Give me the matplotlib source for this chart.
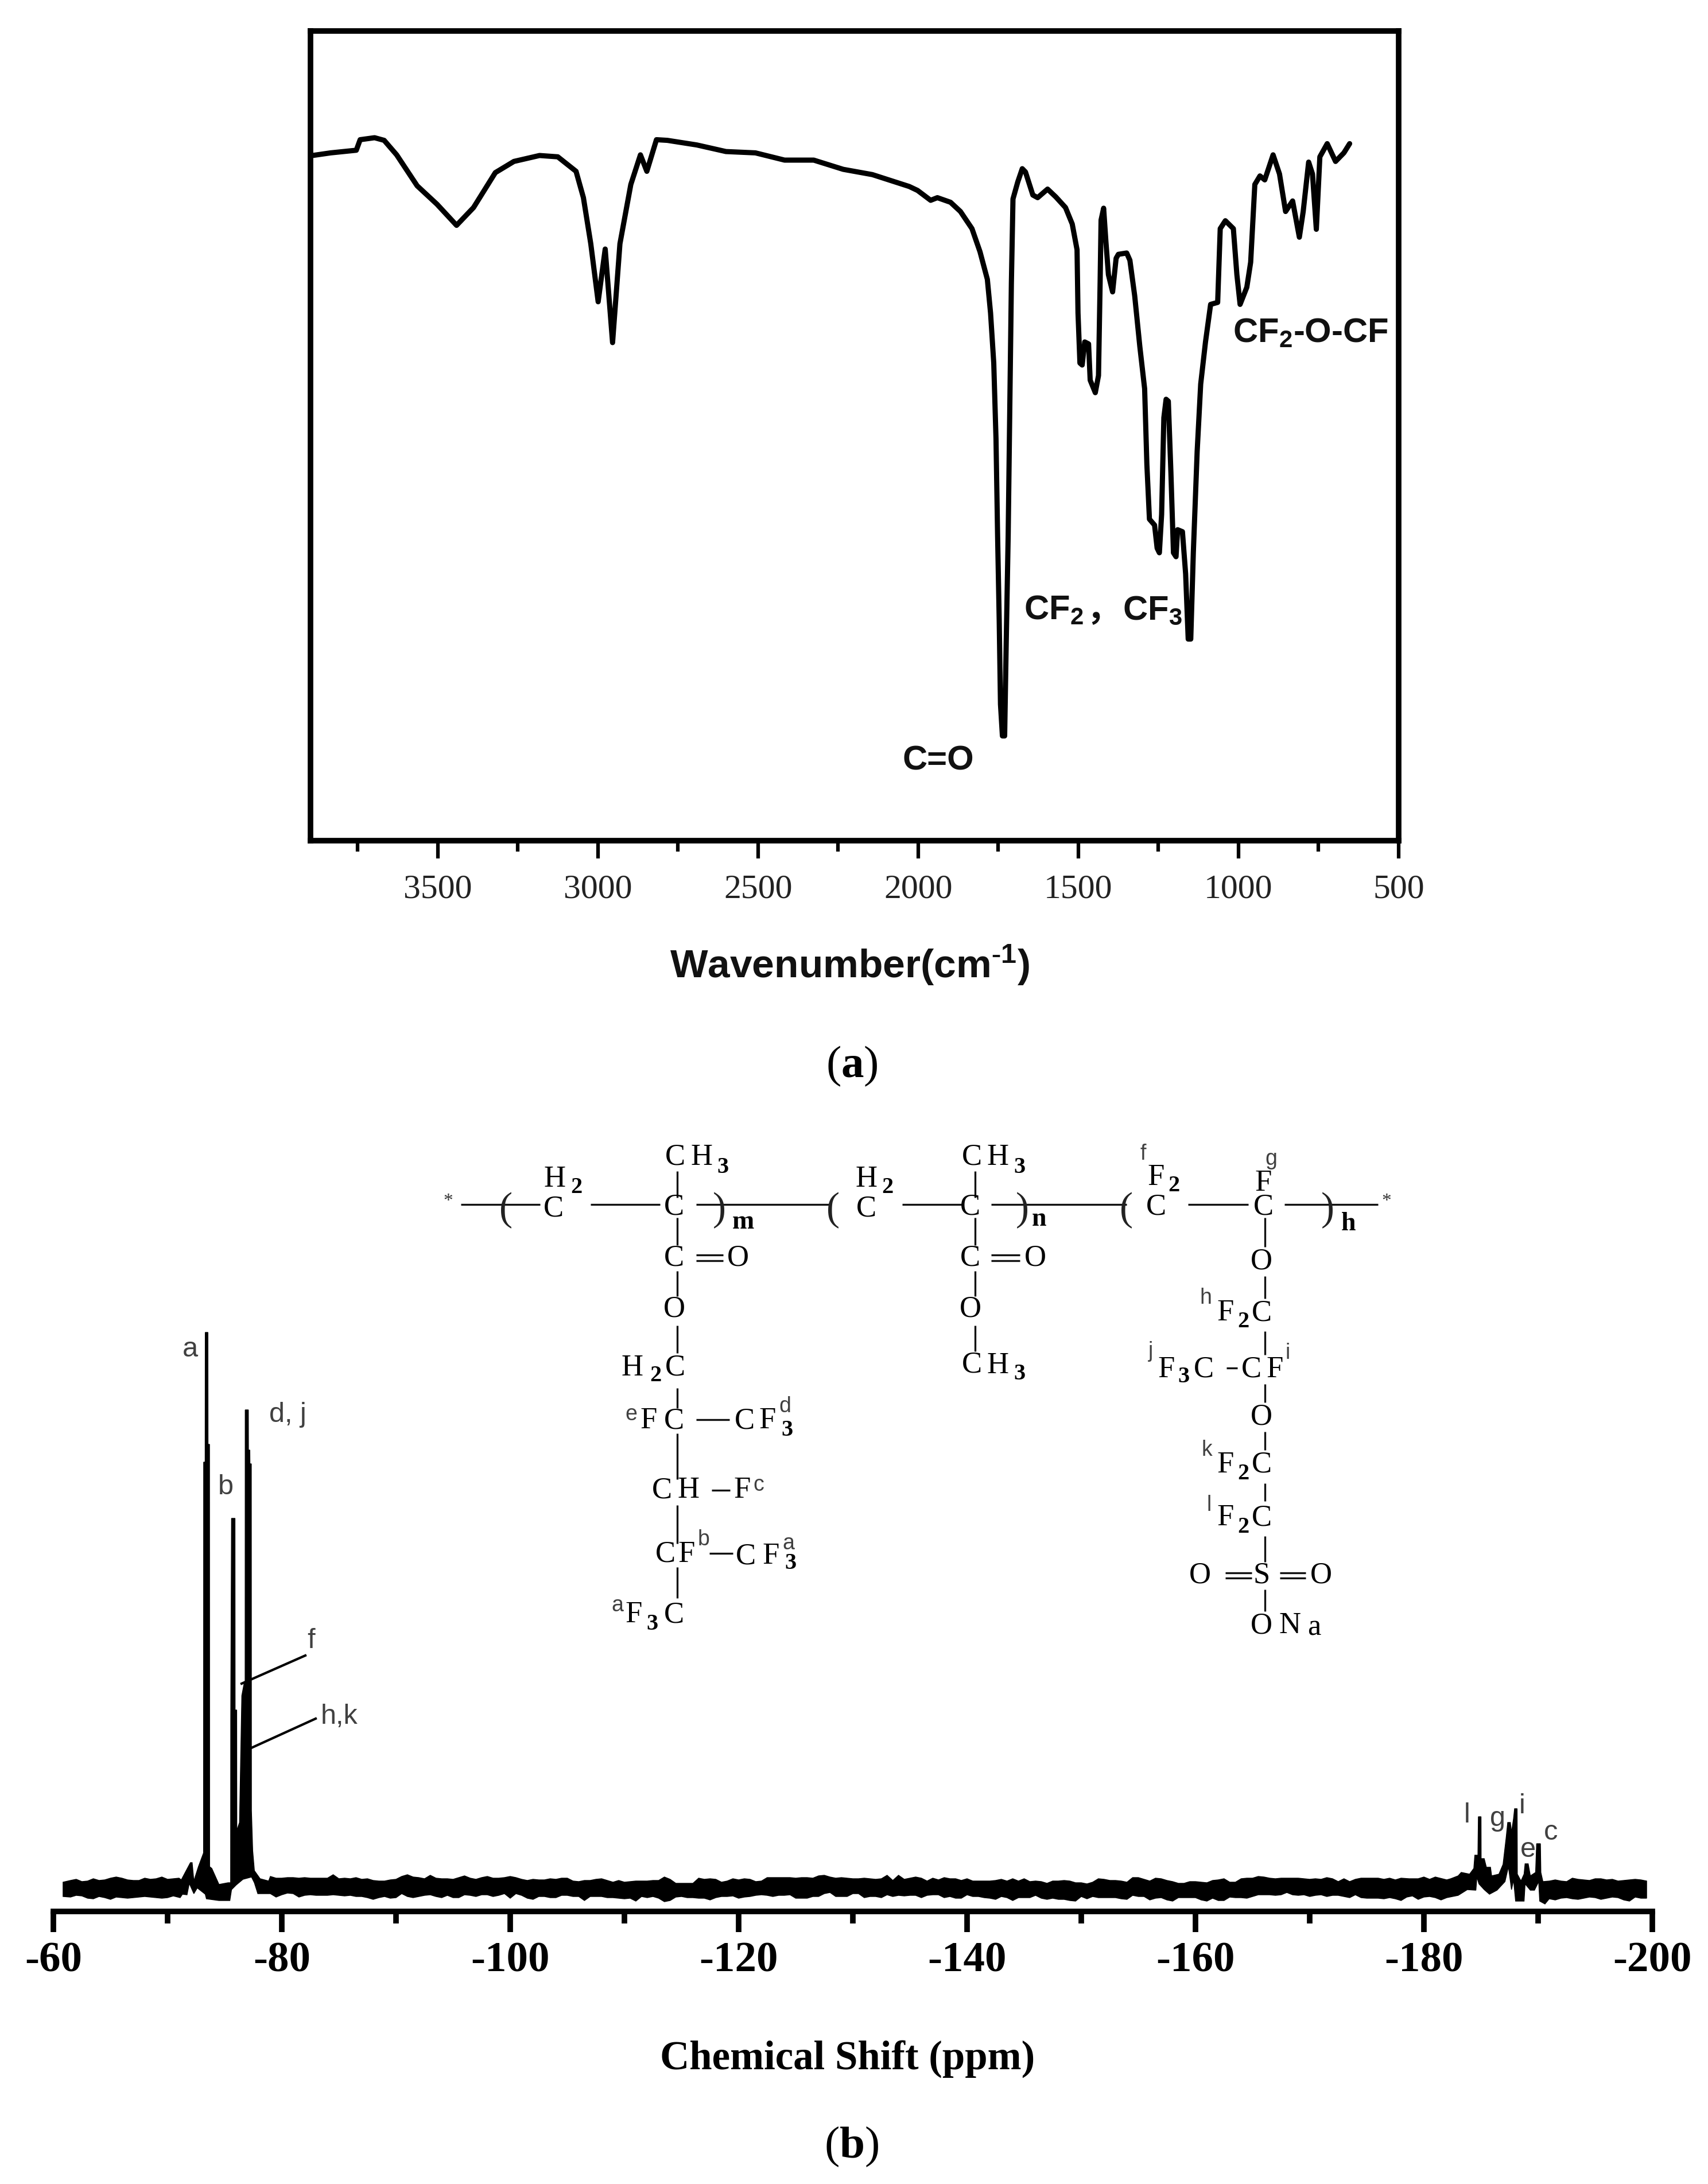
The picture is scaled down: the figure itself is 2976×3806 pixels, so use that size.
"""FTIR spectrum (a) and 19F NMR spectrum with repeat-unit structure (b)."""
import matplotlib

matplotlib.use("Agg")
import matplotlib.pyplot as plt

W, H = 2976, 3806
SANS = "Liberation Sans"
SERIF = "Liberation Serif"

plt.rcParams["mathtext.fontset"] = "custom"
plt.rcParams["mathtext.rm"] = SERIF
plt.rcParams["mathtext.bf"] = SERIF + ":bold"
plt.rcParams["mathtext.it"] = SERIF + ":italic"
plt.rcParams["mathtext.default"] = "regular"
plt.rcParams["axes.unicode_minus"] = False

# --- FTIR trace
wavenumber = [3891, 3834, 3754, 3742, 3697, 3667, 3628, 3564, 3502, 3441, 3388, 3320, 3262, 3182,
              3125, 3068, 3045, 3022, 2999, 2977, 2954, 2931, 2897, 2867, 2847, 2817, 2783, 2691,
              2600, 2508, 2417, 2326, 2234, 2143, 2028, 2002, 1961, 1940, 1899, 1868, 1832, 1807,
              1784, 1774, 1764, 1757, 1752, 1747, 1743, 1737, 1730, 1725, 1719, 1714, 1709, 1704,
              1689, 1675, 1665, 1642, 1627, 1596, 1570, 1540, 1519, 1504, 1501, 1495, 1488, 1480,
              1468, 1463, 1447, 1437, 1432, 1429, 1421, 1414, 1406, 1393, 1382, 1375, 1349, 1339,
              1324, 1308, 1293, 1286, 1278, 1262, 1254, 1247, 1240, 1233, 1226, 1219, 1211, 1203,
              1195, 1190, 1175, 1165, 1157, 1149, 1141, 1129, 1118, 1103, 1087, 1065, 1057, 1041,
              1016, 1005, 995, 974, 962, 949, 933, 918, 892, 872, 853, 831, 810, 798, 781, 769,
              757, 746, 723, 697, 671, 653]
ir_signal = [1040, 1044, 1048, 1064, 1067, 1063, 1041, 994, 966, 934, 961, 1014, 1031, 1040,
             1038, 1016, 976, 906, 818, 898, 756, 906, 996, 1041, 1016, 1064, 1063, 1056,
             1046, 1044, 1033, 1033, 1019, 1011, 993, 987, 972, 976, 969, 955, 929, 894,
             852, 801, 725, 610, 463, 335, 207, 159, 159, 303, 463, 654, 846, 974,
             1000, 1020, 1015, 980, 976, 989, 977, 961, 936, 897, 801, 725, 722, 757,
             754, 699, 680, 706, 846, 942, 960, 910, 859, 833, 884, 890, 892, 881,
             827, 750, 686, 571, 488, 479, 444, 437, 495, 642, 670, 667, 559, 437,
             431, 472, 469, 405, 306, 306, 437, 591, 693, 757, 814, 817, 929, 941,
             929, 859, 814, 840, 878, 996, 1009, 1003, 1041, 1012, 955, 971, 916, 955, 1030, 1012,
             928, 1038, 1058, 1031, 1044, 1058]
ir_major_ticks = [3500, 3000, 2500, 2000, 1500, 1000, 500]
ir_minor_ticks = [3750, 3250, 2750, 2250, 1750, 1250, 750]

# --- NMR outline: upper and lower edge of the noisy trace
nmr_upper_ppm = [-60.85, -62, -63, -64, -65, -66, -67, -68, -69, -70, -71, -71.2, -72, -72.15, -72.3, -72.7,
                 -73.15, -73.16, -73.29, -73.3, -73.53, -73.54, -73.67, -73.68, -73.87, -74.5, -75.3, -75.52,
                 -75.53, -75.6, -75.61, -75.9, -75.91, -76.05, -76.06, -76.3, -76.5, -76.7, -76.79, -76.8,
                 -77.07, -77.08, -77.2, -77.21, -77.33, -77.34, -77.45, -77.6, -78.1, -78.85, -79, -80, -81,
                 -82, -83, -84, -85, -86, -87, -88, -89, -90, -91, -92, -93, -94, -95, -96, -97, -98, -99,
                 -100, -101, -102, -103, -104, -105, -106, -107, -108, -109, -110, -111, -112, -113, -114,
                 -115, -116, -117, -118, -119, -120, -121, -122, -123, -124, -125, -126, -127, -128, -129,
                 -130, -131, -132, -133, -134, -135, -136, -137, -138, -139, -140, -141, -142, -143, -144,
                 -145, -146, -147, -148, -149, -150, -151, -152, -153, -154, -155, -156, -157, -158, -159,
                 -160, -161, -162, -163, -164, -165, -166, -167, -168, -169, -170, -171, -172, -173, -174,
                 -175, -176, -178.7, -181.4, -182.35, -183.27, -184, -184.37, -184.46, -184.73, -184.77,
                 -185, -185.01, -185.28, -185.47, -185.83, -185.93, -186.57, -186.93, -187.2, -187.34,
                 -187.57, -187.67, -187.85, -187.94, -188.16, -188.18, -188.5, -188.77, -188.86, -189.13,
                 -189.32, -189.78, -189.87, -190.2, -190.24, -190.42, -192, -193, -194, -195, -196, -197,
                 -198, -199, -199.5]
nmr_upper = [51, 56, 53, 54, 58, 58, 54, 58, 57, 56, 58, 55, 85, 85, 53, 78,
             102, 783, 783, 1009, 1009, 814, 814, 78, 75, 47, 50, 50,
             334, 685, 685, 685, 351, 351, 141, 155, 376, 397, 397, 874,
             874, 804, 804, 780, 780, 176, 106, 71, 57, 53, 61, 58, 59,
             59, 58, 58, 57, 57, 56, 54, 53, 56, 64, 59, 63, 57, 56, 62, 56, 61, 58,
             61, 56, 56, 55, 56, 58, 52, 54, 57, 51, 51, 53, 53, 54, 56,
             49, 49, 56, 56, 53, 55, 56, 53, 59, 59, 58, 59, 62, 60, 59,
             57, 58, 56, 63, 63, 58, 58, 58, 59, 57, 57, 53, 53, 56, 57,
             57, 53, 49, 53, 53, 50, 51, 56, 54, 51, 59, 53, 57, 52, 49,
             52, 50, 55, 51, 57, 58, 60, 57, 58, 58, 56, 56, 57, 57, 56,
             58, 58, 57, 58, 57, 68, 65, 75, 98, 98, 165,
             165, 92, 92, 77, 77, 62, 65, 82, 128, 155,
             155, 138, 162, 179, 179, 65, 53, 65, 83, 83,
             62, 68, 118, 118, 68, 52, 53, 58, 55, 57, 55, 53, 55, 55, 53]
nmr_lower_ppm = [-60.85, -62, -63, -64, -65, -66, -67, -68, -69, -70, -71.1, -71.3, -71.7, -71.9, -72.3, -72.6,
                 -73.3, -73.4, -74.5, -75.45, -75.6, -76, -76.6, -77.35, -77.6, -77.9, -79, -80, -81, -82,
                 -83, -84, -85, -86, -87, -88, -89, -90, -91, -92, -93, -94, -95, -96, -97, -98, -99, -100,
                 -101, -102, -103, -104, -105, -106, -107, -108, -109, -110, -111, -112, -113, -114, -115,
                 -116, -117, -118, -119, -120, -121, -122, -123, -124, -125, -126, -127, -128, -129, -130,
                 -131, -132, -133, -134, -135, -136, -137, -138, -139, -140, -141, -142, -143, -144, -145,
                 -146, -147, -148, -149, -150, -151, -152, -153, -154, -155, -156, -157, -158, -159, -160,
                 -161, -162, -163, -164, -165, -166, -167, -168, -169, -170, -171, -172, -173, -174, -175,
                 -176, -177, -178, -179, -180, -181, -182, -183, -183.8, -184.55, -184.64, -184.82, -185.28,
                 -185.74, -186.4, -187.1, -187.4, -187.67, -187.85, -188.03, -188.77, -188.86, -189.32,
                 -189.68, -190.05, -190.14, -190.6, -190.97, -192, -193, -194, -195, -196, -197, -198, -199,
                 -199.5]
nmr_lower = [26, 28, 23, 26, 21, 24, 24, 26, 24, 24, 24, 30, 29, 49, 31, 41,
             30, 22, 19, 19, 38, 46, 56, 60, 50, 31, 31, 29, 31, 28,
             28, 28, 28, 28, 26, 21, 26, 24, 26, 26, 29, 24, 24, 29, 26, 29, 28, 23,
             28, 21, 26, 24, 28, 26, 26, 26, 24, 22, 18, 24, 23, 19, 26,
             24, 23, 24, 26, 23, 26, 29, 26, 28, 23, 23, 26, 33, 26, 31,
             24, 26, 29, 28, 28, 24, 29, 24, 23, 29, 26, 23, 26, 19, 24,
             28, 21, 21, 19, 26, 26, 24, 24, 21, 26, 20, 24, 18, 24, 24,
             18, 19, 25, 24, 26, 29, 28, 33, 28, 26, 29, 28, 26, 29, 23,
             23, 24, 19, 27, 25, 24, 24, 28, 38, 37, 60, 48, 38,
             30, 37, 52, 78, 38, 55, 18, 18, 48, 37,
             37, 52, 18, 13, 22, 23, 22, 23, 24, 23, 24, 18, 23, 23]
# readings taken between the whole-ppm ones, along the flat stretches
mid_upper_ppm = [-61.5, -62.5, -63.5, -64.5, -65.5, -66.5, -67.5, -68.5, -69.5, -70.5,
                 -79.5, -80.5, -81.5, -82.5, -83.5, -84.5, -85.5, -86.5, -87.5, -88.5, -89.5, -90.5,
                 -91.5, -92.5, -93.5, -94.5, -95.5, -96.5, -97.5, -98.5, -99.5,
                 -100.5, -101.5, -102.5, -103.5, -104.5, -105.5, -106.5, -107.5, -108.5, -109.5,
                 -110.5, -111.5, -112.5, -113.5, -114.5, -115.5, -116.5, -117.5, -118.5, -119.5,
                 -120.5, -121.5, -122.5, -123.5, -124.5, -125.5, -126.5, -127.5, -128.5, -129.5,
                 -130.5, -131.5, -132.5, -133.5, -134.5, -135.5, -136.5, -137.5, -138.5, -139.5,
                 -140.5, -141.5, -142.5, -143.5, -144.5, -145.5, -146.5, -147.5, -148.5, -149.5,
                 -150.5, -151.5, -152.5, -153.5, -154.5, -155.5, -156.5, -157.5, -158.5, -159.5,
                 -160.5, -161.5, -162.5, -163.5, -164.5, -165.5, -166.5, -167.5, -168.5, -169.5,
                 -170.5, -171.5, -172.5, -173.5, -174.5,
                 -176.5, -177, -177.5, -178, -179.5, -180, -180.5, -181, -182, -183,
                 -191, -191.5, -192.5, -193.5, -194.5, -195.5, -196.5, -197.5, -198.5]
mid_upper = [54, 52, 57, 55, 60, 55, 54, 56, 60, 57,
             58, 59, 58, 58, 58, 64, 58, 59, 57, 53, 55, 61,
             60, 57, 58, 57, 59, 58, 59, 58, 59,
             59, 54, 55, 57, 58, 53, 54, 56, 54, 54,
             52, 53, 54, 60, 49, 49, 58, 57, 51, 57,
             57, 52, 59, 59, 59, 59, 58, 63, 58, 58,
             57, 57, 57, 54, 56, 60, 53, 55, 57, 54,
             53, 53, 54, 53, 53, 52, 52, 53, 54, 50,
             48, 57, 54, 53, 59, 56, 58, 54, 49, 52,
             51, 54, 57, 51, 58, 61, 58, 58, 58, 57,
             57, 59, 52, 52, 58,
             56, 58, 55, 58, 57, 60, 56, 60, 55, 62,
             53, 55, 52, 56, 54, 57, 56, 54, 56]
mid_lower_ppm = [-61.5, -62.5, -63.5, -64.5, -65.5, -66.5, -67.5, -68.5, -69.5, -70.5,
                 -79.5, -80.5, -81.5, -82.5, -83.5, -84.5, -85.5, -86.5, -87.5, -88.5, -89.5, -90.5,
                 -91.5, -92.5, -93.5, -94.5, -95.5, -96.5, -97.5, -98.5, -99.5,
                 -100.5, -101.5, -102.5, -103.5, -104.5, -105.5, -106.5, -107.5, -108.5, -109.5,
                 -110.5, -111.5, -112.5, -113.5, -114.5, -115.5, -116.5, -117.5, -118.5, -119.5,
                 -120.5, -121.5, -122.5, -123.5, -124.5, -125.5, -126.5, -127.5, -128.5, -129.5,
                 -130.5, -131.5, -132.5, -133.5, -134.5, -135.5, -136.5, -137.5, -138.5, -139.5,
                 -140.5, -141.5, -142.5, -143.5, -144.5, -145.5, -146.5, -147.5, -148.5, -149.5,
                 -150.5, -151.5, -152.5, -153.5, -154.5, -155.5, -156.5, -157.5, -158.5, -159.5,
                 -160.5, -161.5, -162.5, -163.5, -164.5, -165.5, -166.5, -167.5, -168.5, -169.5,
                 -170.5, -171.5, -172.5, -173.5, -174.5,
                 -176.5, -177.5, -178.5, -179.5, -180.5, -181.5, -182.5,
                 -191.5, -192.5, -193.5, -194.5, -195.5, -196.5, -197.5, -198.5]
mid_lower = [25, 27, 22, 24, 25, 23, 25, 25, 23, 27,
             25, 32, 25, 29, 28, 29, 27, 26, 24, 24, 23, 31,
             24, 28, 26, 28, 24, 28, 29, 26, 31,
             31, 23, 26, 24, 28, 26, 19, 26, 24, 23,
             23, 26, 26, 17, 25, 24, 23, 20, 26, 27,
             25, 28, 28, 28, 29, 23, 26, 31, 26, 26,
             31, 26, 24, 26, 27, 28, 28, 29, 26, 23,
             26, 24, 21, 24, 24, 24, 23, 23, 21, 18,
             22, 24, 24, 22, 28, 26, 23, 20, 24, 24,
             20, 23, 19, 24, 23, 29, 29, 29, 29, 29,
             28, 26, 28, 24, 24,
             22, 22, 25, 21, 26, 20, 26,
             20, 24, 21, 25, 21, 25, 20, 25]
ppm_major_ticks = [-60, -80, -100, -120, -140, -160, -180, -200]
ppm_minor_ticks = [-70, -90, -110, -130, -150, -170, -190]

# --- repeat-unit drawing, laid out on a 1568x1568 grid over its own box
structure_atoms = [
    ("C", 230, 245), ("H", 232, 165), ("C", 413, 240), ("C", 415, 105), ("H", 455, 105),
    ("C", 705, 245), ("H", 705, 165), ("C", 863, 240), ("C", 865, 105), ("H", 905, 105),
    ("C", 1145, 240), ("F", 1145, 160), ("C", 1308, 240), ("F", 1308, 175),
    ("C", 413, 380), ("O", 510, 380), ("O", 414, 520), ("H", 350, 680), ("C", 415, 680),
    ("F", 375, 825), ("C", 413, 825), ("C", 520, 825), ("F", 555, 825),
    ("C", 395, 1015), ("H", 435, 1015), ("F", 517, 1015), ("C", 400, 1190), ("F", 432, 1190),
    ("C", 522, 1195), ("F", 560, 1195), ("F", 352, 1355), ("C", 413, 1355),
    ("C", 863, 380), ("O", 962, 380), ("O", 863, 520), ("C", 865, 672), ("H", 905, 675),
    ("O", 1305, 390), ("F", 1250, 530), ("C", 1305, 530), ("F", 1160, 685), ("C", 1217, 685),
    ("C", 1290, 685), ("F", 1325, 685), ("O", 1305, 815), ("F", 1250, 945), ("C", 1305, 945),
    ("F", 1250, 1090), ("C", 1305, 1090), ("O", 1212, 1248), ("S", 1305, 1248), ("O", 1395, 1248),
    ("O", 1305, 1385), ("N", 1348, 1385), ("a", 1385, 1390),
]
structure_subscripts = [
    ("2", 265, 188), ("3", 487, 132), ("2", 737, 188), ("3", 938, 132), ("2", 1172, 182),
    ("m", 518, 282), ("n", 967, 274), ("h", 1437, 287),
    ("2", 385, 702), ("3", 585, 850), ("3", 590, 1215), ("3", 380, 1380), ("3", 938, 697),
    ("2", 1277, 555), ("3", 1187, 705), ("2", 1277, 970), ("2", 1277, 1115),
]
structure_tags = [
    ("f", 1125, 95), ("g", 1320, 110), ("e", 348, 808), ("d", 582, 785), ("c", 542, 1000),
    ("b", 458, 1150), ("a", 587, 1160), ("a", 327, 1330), ("h", 1220, 490), ("j", 1137, 635),
    ("i", 1345, 640), ("k", 1222, 905), ("l", 1225, 1055),
]
structure_bonds = [
    (90, 233, 210, 233), (287, 233, 392, 233), (447, 233, 650, 233), (760, 233, 850, 233),
    (895, 233, 1100, 233), (1193, 233, 1285, 233), (1340, 233, 1482, 233),
    (418, 143, 418, 215), (870, 143, 870, 215), (418, 270, 418, 345), (447, 372, 488, 372),
    (447, 388, 488, 388), (418, 415, 418, 485), (418, 565, 418, 640), (418, 735, 418, 790),
    (447, 822, 497, 822), (418, 860, 418, 985), (470, 1015, 498, 1015), (418, 1055, 418, 1160),
    (467, 1187, 503, 1187), (418, 1225, 418, 1310),
    (870, 270, 870, 345), (895, 372, 938, 372), (895, 388, 938, 388), (870, 415, 870, 485),
    (870, 565, 870, 635),
    (1310, 270, 1310, 350), (1310, 430, 1310, 490), (1310, 580, 1310, 645), (1252, 680, 1268, 680),
    (1310, 725, 1310, 775), (1310, 855, 1310, 905), (1310, 995, 1310, 1045), (1310, 1140, 1310, 1210),
    (1250, 1240, 1290, 1240), (1250, 1255, 1290, 1255), (1333, 1240, 1372, 1240),
    (1333, 1255, 1372, 1255), (1310, 1285, 1310, 1345),
]
structure_brackets = [("(", 158, 250), (")", 482, 250), ("(", 655, 250), (")", 942, 250),
                      ("(", 1100, 250), (")", 1405, 250)]


def box(left, top, right, bottom):
    return [left / W, 1 - bottom / H, (right - left) / W, (bottom - top) / H]


def merged(ppm_a, val_a, ppm_b, val_b):
    pairs = sorted(zip(ppm_a + ppm_b, val_a + val_b), key=lambda p: -p[0])
    return [p[0] for p in pairs], [p[1] for p in pairs]


def draw_structure(ax):
    for label, x, y in structure_atoms:
        ax.text(x, y, label, family=SERIF, fontsize=38, ha="center", va="center", color="black")
    for label, x, y in structure_subscripts:
        size = 33 if label in "mnh" else 29
        ax.text(x, y, label, family=SERIF, fontsize=size, weight="bold", ha="center", va="center", color="black")
    for label, x, y in structure_tags:
        ax.text(x, y, label, family=SANS, fontsize=27, ha="center", va="center", color="#404040")
    for label, x, y in structure_brackets:
        ax.text(x, y, label, family=SERIF, fontsize=50, ha="center", va="center", color="#222222")
    for label, x, y in [("*", 70, 226), ("*", 1495, 226)]:
        ax.text(x, y, label, family=SERIF, fontsize=24, ha="center", va="center", color="#333333")
    for x0, y0, x1, y1 in structure_bonds:
        ax.plot([x0, x1], [y0, y1], color="#111111", lw=2.4, solid_capstyle="butt")


fig = plt.figure(figsize=(W / 100, H / 100), dpi=100, facecolor="white")

# panel (a)
ax_ir = fig.add_axes(box(541, 54, 2437, 1465))
ax_ir.plot(wavenumber, ir_signal, color="black", lw=6.5, solid_joinstyle="round", solid_capstyle="round")
ax_ir.set_xlim(3897, 500)
ax_ir.set_ylim(0, 1229)
ax_ir.set_yticks([])
ax_ir.set_xticks(ir_major_ticks)
ax_ir.set_xticks(ir_minor_ticks, minor=True)
ax_ir.tick_params(axis="x", which="major", length=22, width=4.5, pad=20, labelsize=43, labelcolor="#222222")
ax_ir.tick_params(axis="x", which="minor", length=14, width=4.5)
for label in ax_ir.get_xticklabels():
    label.set_family(SERIF)
for spine in ax_ir.spines.values():
    spine.set_linewidth(7)

# panel (b)
ax_nmr = fig.add_axes(box(93, 2250, 2879, 3331))
up_x, up_y = merged(nmr_upper_ppm, nmr_upper, mid_upper_ppm, mid_upper)
lo_x, lo_y = merged(nmr_lower_ppm, nmr_lower, mid_lower_ppm, mid_lower)
ax_nmr.fill(up_x + lo_x[::-1], up_y + lo_y[::-1], color="black", lw=1, joinstyle="miter")
ax_nmr.set_xlim(-60, -200)
ax_nmr.set_ylim(0, 1081)
ax_nmr.set_yticks([])
ax_nmr.set_xticks(ppm_major_ticks)
ax_nmr.set_xticks(ppm_minor_ticks, minor=True)
ax_nmr.tick_params(axis="x", which="major", length=26, width=7, pad=12, labelsize=54)
ax_nmr.tick_params(axis="x", which="minor", length=15, width=7)
for label in ax_nmr.get_xticklabels():
    label.set_family(SERIF)
    label.set_weight("bold")
for side in ["left", "right", "top"]:
    ax_nmr.spines[side].set_visible(False)
ax_nmr.spines["bottom"].set_linewidth(7)
ax_nmr.patch.set_alpha(0)

# repeat unit
ax_struct = fig.add_axes(box(700, 1950, 2500, 2950))
ax_struct.set_xlim(0, 1568)
ax_struct.set_ylim(1568, 0)
ax_struct.axis("off")
draw_structure(ax_struct)

# labels placed in image pixels
over = fig.add_axes([0, 0, 1, 1])
over.set_xlim(0, W)
over.set_ylim(H, 0)
over.axis("off")

bold_sans = dict(family=SANS, weight="bold", fontsize=43, va="center", color="#111111")
over.text(1635, 1326, "C=O", ha="center", **bold_sans)
over.text(1784, 1064, "CF$_2$", ha="left", **bold_sans)
over.text(1892, 1064, "，", ha="left", family="Noto Sans CJK SC", weight="bold", fontsize=43,
          va="center", color="#111111")
over.text(1956, 1064, "CF$_3$", ha="left", **bold_sans)
over.text(2148, 581, "CF$_2$-O-CF", ha="left", **bold_sans)
over.text(1481, 1682, r"Wavenumber(cm$^{\text{-}1}$)", family=SANS, weight="bold", fontsize=50,
          ha="center", va="center", color="#111111")
over.text(1484, 1858, r"($\mathbf{a}$)", family=SERIF, fontsize=57, ha="center", va="center")

nmr_labels = [("a", 331, 2352), ("b", 393, 2592), ("d, j", 501, 2466), ("f", 542, 2859), ("h,k", 591, 2991),
              ("l", 2556, 3163), ("g", 2610, 3170), ("i", 2652, 3148), ("e", 2662, 3224), ("c", 2702, 3193)]
for label, x, y in nmr_labels:
    over.text(x, y, label, family=SANS, fontsize=35, ha="center", va="center", color="#404040")
over.plot([532, 421], [2885, 2934], color="black", lw=3)
over.plot([550, 438], [2995, 3046], color="black", lw=3)
over.text(1477, 3588, "Chemical Shift (ppm)", family=SERIF, weight="bold", fontsize=51,
          ha="center", va="center")
over.text(1484, 3741, r"($\mathbf{b}$)", family=SERIF, fontsize=57, ha="center", va="center")

fig.savefig("out.png", dpi=100, facecolor="white")
